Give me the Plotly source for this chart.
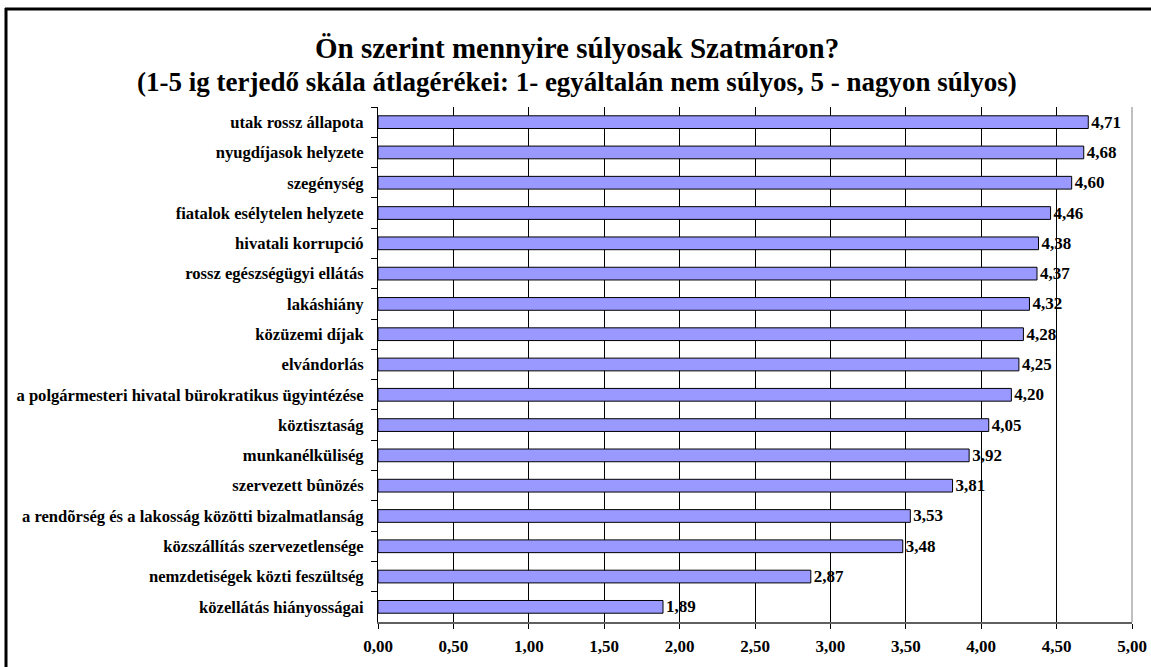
import plotly.graph_objects as go

categories = [
    "utak rossz állapota",
    "nyugdíjasok helyzete",
    "szegénység",
    "fiatalok esélytelen helyzete",
    "hivatali korrupció",
    "rossz egészségügyi ellátás",
    "lakáshiány",
    "közüzemi díjak",
    "elvándorlás",
    "a polgármesteri hivatal bürokratikus ügyintézése",
    "köztisztaság",
    "munkanélküliség",
    "szervezett bûnözés",
    "a rendõrség és a lakosság közötti bizalmatlanság",
    "közszállítás szervezetlensége",
    "nemzdetiségek közti feszültség",
    "közellátás hiányosságai",
]
values = [4.71, 4.68, 4.60, 4.46, 4.38, 4.37, 4.32, 4.28, 4.25, 4.20,
          4.05, 3.92, 3.81, 3.53, 3.48, 2.87, 1.89]
title_line1 = "Ön szerint mennyire súlyosak Szatmáron?"
title_line2 = "(1-5 ig terjedő skála átlagérékei: 1- egyáltalán nem súlyos, 5 - nagyon súlyos)"

W, H = 1151, 667
L, R, T, B = 378, 19, 107, 45
pw, ph = W - L - R, H - T - B

def px_x(x):
    return (x - L) / pw

def px_y(y):
    return (H - B - y) / ph

FONT = "Liberation Serif, Times New Roman, serif"

fig = go.Figure(go.Bar(
    x=values, y=categories, orientation="h",
    marker=dict(color="#9999FF", line=dict(color="black", width=1)),
    width=0.42,
    texttemplate="<b>%{x:.2f}</b>", textposition="outside",
    constraintext="none",
    textfont=dict(family=FONT, size=17, color="black"),
    cliponaxis=False,
))

fig.update_layout(
    width=W, height=H, autosize=False,
    margin=dict(l=L, r=R, t=T, b=B, autoexpand=False),
    paper_bgcolor="white", plot_bgcolor="white",
    separators=",.",
    showlegend=False,
    font=dict(family=FONT, color="black"),
    xaxis=dict(
        range=[0, 5], dtick=0.5, tick0=0, tickformat=".2f",
        showgrid=True, gridcolor="black", gridwidth=1,
        showline=True, linecolor="#606060", linewidth=2,
        ticks="outside", ticklen=5, tickcolor="black",
        tickfont=dict(family=FONT, size=17, color="black", weight="bold"),
        ticklabelstandoff=3, automargin=False,
        zeroline=False, fixedrange=True,
    ),
    yaxis=dict(
        autorange="reversed", automargin=False,
        showline=True, linecolor="black", linewidth=1,
        ticks="outside", ticklen=6, tickcolor="black", tickson="boundaries",
        showgrid=False,
        tickfont=dict(family=FONT, size=16.6, color="black", weight="bold"),
        ticklabelstandoff=10, fixedrange=True,
    ),
    shapes=[
        dict(type="line", xref="paper", yref="paper", x0=1, x1=1, y0=0, y1=1,
             line=dict(color="#808080", width=1)),
        dict(type="line", xref="paper", yref="paper", x0=px_x(6), x1=px_x(6),
             y0=px_y(8), y1=px_y(H + 20), line=dict(color="black", width=3)),
        dict(type="line", xref="paper", yref="paper", x0=px_x(5), x1=px_x(W + 20),
             y0=px_y(9), y1=px_y(9), line=dict(color="black", width=3)),
    ],
    annotations=[
        dict(text="<b>" + title_line1 + "</b>", xref="paper", yref="paper",
             x=px_x(577), y=px_y(48), xanchor="center", yanchor="middle",
             showarrow=False, font=dict(family=FONT, size=29, color="black")),
        dict(text="<b>" + title_line2 + "</b>", xref="paper", yref="paper",
             x=px_x(577), y=px_y(82), xanchor="center", yanchor="middle",
             showarrow=False, font=dict(family=FONT, size=27, color="black")),
    ],
)

fig.write_html("out.html", config={"displayModeBar": False},
               post_script="document.body.style.margin='0';")
